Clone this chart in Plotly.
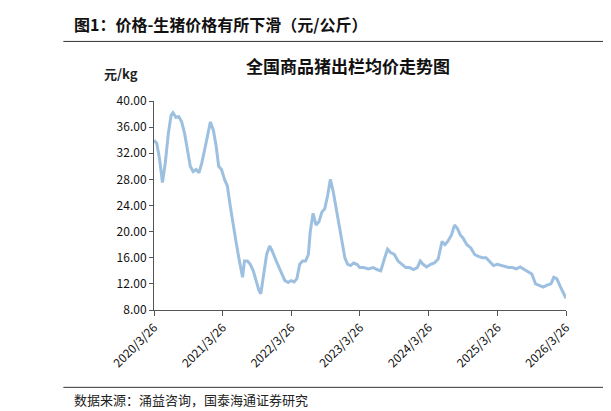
import plotly.graph_objects as go

dates = ["2020-03-26","2020-04-10","2020-04-25","2020-05-10","2020-05-25","2020-06-10","2020-06-25","2020-07-05","2020-07-20","2020-08-05","2020-08-20","2020-09-05","2020-09-20","2020-10-05","2020-10-20","2020-11-05","2020-11-20","2020-12-05","2020-12-20","2021-01-05","2021-01-20","2021-02-05","2021-02-20","2021-03-05","2021-03-20","2021-04-05","2021-04-20","2021-05-05","2021-05-20","2021-06-05","2021-06-20","2021-07-01","2021-07-10","2021-07-20","2021-08-05","2021-08-20","2021-09-05","2021-09-20","2021-10-05","2021-10-15","2021-11-01","2021-11-15","2021-12-01","2021-12-15","2022-01-05","2022-01-20","2022-02-05","2022-02-20","2022-03-10","2022-03-25","2022-04-10","2022-04-25","2022-05-10","2022-05-25","2022-06-10","2022-06-25","2022-07-05","2022-07-20","2022-08-05","2022-08-20","2022-09-05","2022-09-20","2022-10-05","2022-10-20","2022-11-05","2022-11-20","2022-12-05","2022-12-20","2023-01-05","2023-01-20","2023-02-05","2023-02-20","2023-03-10","2023-03-25","2023-04-15","2023-05-10","2023-06-05","2023-06-25","2023-07-15","2023-08-05","2023-08-20","2023-09-05","2023-09-25","2023-10-15","2023-11-05","2023-11-25","2023-12-15","2024-01-05","2024-01-25","2024-02-10","2024-02-25","2024-03-15","2024-04-05","2024-04-25","2024-05-15","2024-06-05","2024-06-20","2024-07-05","2024-07-25","2024-08-10","2024-08-25","2024-09-10","2024-09-25","2024-10-15","2024-11-05","2024-11-25","2024-12-15","2025-01-05","2025-01-25","2025-02-15","2025-03-05","2025-03-25","2025-04-15","2025-05-05","2025-05-25","2025-06-15","2025-07-05","2025-07-25","2025-08-15","2025-09-05","2025-09-25","2025-10-15","2025-11-05","2025-11-25","2025-12-15","2026-01-05","2026-01-20","2026-02-05","2026-02-25","2026-03-10","2026-03-26"]
prices = [34.0,33.5,31.0,27.5,30.5,35.0,37.8,38.2,37.5,37.6,36.8,35.0,32.5,30.0,29.2,29.5,29.0,30.5,32.5,35.0,36.8,35.5,33.0,30.0,29.5,28.0,27.0,24.0,21.0,18.5,16.0,14.0,13.0,15.5,15.5,15.0,14.0,12.5,11.0,10.5,14.0,16.5,17.8,17.0,15.5,14.5,13.5,12.5,12.2,12.5,12.3,12.8,15.0,15.5,15.5,16.5,20.0,22.8,21.0,21.5,23.0,23.5,25.5,28.0,26.0,23.5,21.5,18.5,16.0,15.0,14.8,15.2,15.0,14.5,14.5,14.3,14.5,14.2,14.0,16.0,17.3,16.8,16.5,15.5,15.0,14.5,14.5,14.2,14.5,15.5,15.0,14.6,15.0,15.2,15.8,18.5,18.0,18.5,19.5,21.0,20.5,19.5,19.0,18.0,17.5,16.5,16.2,16.0,16.0,15.3,14.8,15.0,14.8,14.6,14.5,14.5,14.3,14.6,14.2,13.8,13.5,12.0,11.8,11.5,11.8,12.0,13.0,12.8,11.5,10.8,9.8]
tickvals = ["2020-03-26","2021-03-26","2022-03-26","2023-03-26","2024-03-26","2025-03-26","2026-03-26"]
ticktext = ["2020/3/26","2021/3/26","2022/3/26","2023/3/26","2024/3/26","2025/3/26","2026/3/26"]
yticks = [8,12,16,20,24,28,32,36,40]

F = "Noto Sans CJK SC"
fig = go.Figure(go.Scatter(x=dates, y=prices, mode="lines",
                           line=dict(color="#9DC0E0", width=3)))
fig.update_layout(
    width=611, height=411, margin=dict(l=146, r=53, t=93, b=109),
    paper_bgcolor="white", plot_bgcolor="white", showlegend=False,
    font=dict(family=F, size=12, color="#222"),
    xaxis=dict(tickvals=tickvals, ticktext=ticktext, tickangle=-45,
               range=["2020-03-26","2026-03-26"], showline=True, linecolor="#555",
               ticks="outside", ticklen=5, tickcolor="#555", showgrid=False,
               tickfont=dict(size=12, color="#111")),
    yaxis=dict(range=[8,40], tickvals=yticks, ticktext=[f"{v:.2f}" for v in yticks],
               showline=True, linecolor="#555", ticks="outside", ticklen=4,
               tickcolor="#555", showgrid=False, tickfont=dict(size=12, color="#111")),
    shapes=[dict(type="line", xref="paper", yref="paper", x0=-0.22, x1=1.12, y0=1.285, y1=1.285,
                 line=dict(color="#333", width=1)),
            dict(type="line", xref="paper", yref="paper", x0=-0.22, x1=1.12, y0=-0.37, y1=-0.37,
                 line=dict(color="#333", width=1))],
    annotations=[
        dict(text="<b>图1：价格-生猪价格有所下滑（元/公斤）</b>", xref="paper", yref="paper",
             x=-0.2, y=1.37, xanchor="left", yanchor="middle", showarrow=False,
             font=dict(size=16, color="#111", family=F)),
        dict(text="<b>全国商品猪出栏均价走势图</b>", xref="paper", yref="paper", x=0.47, y=1.17,
             xanchor="center", yanchor="middle", showarrow=False, font=dict(size=17, color="#111", family=F)),
        dict(text="<b>元/kg</b>", xref="paper", yref="paper", x=-0.08, y=1.13, xanchor="center",
             yanchor="middle", showarrow=False, font=dict(size=13, color="#222", family=F)),
        dict(text="数据来源：涌益咨询，国泰海通证券研究", xref="paper", yref="paper", x=-0.2, y=-0.43,
             xanchor="left", yanchor="middle", showarrow=False, font=dict(size=13, color="#222", family=F)),
    ])
fig.write_html("out.html")
